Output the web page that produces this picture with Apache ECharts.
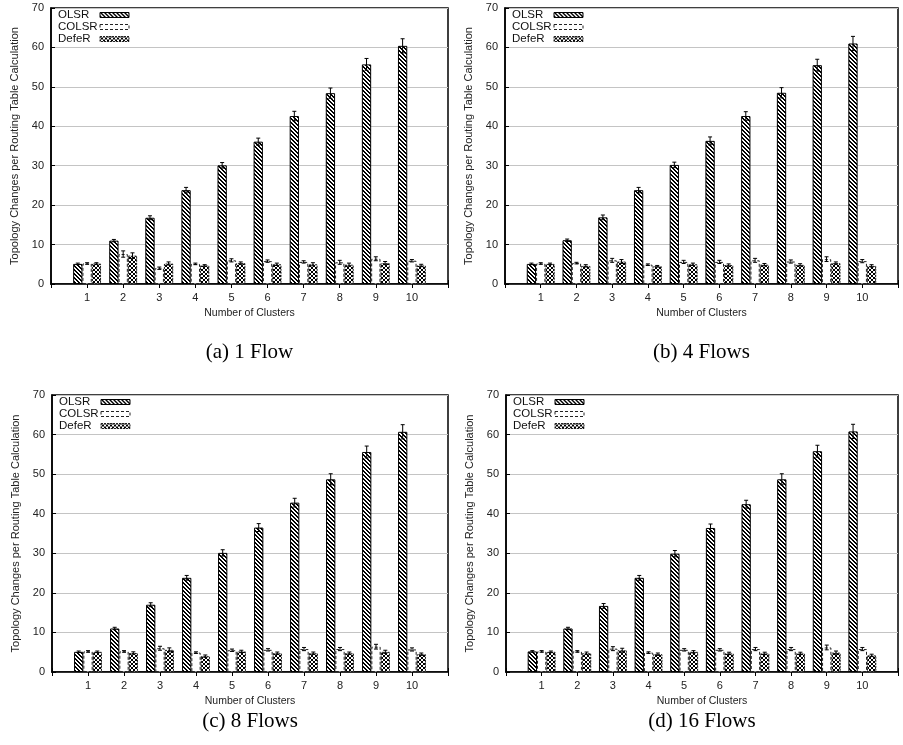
<!DOCTYPE html>
<html><head><meta charset="utf-8">
<script src="https://cdn.jsdelivr.net/npm/echarts/dist/echarts.min.js"></script>
<style>html,body{margin:0;padding:0;background:#fff}#c{width:903px;height:745px}</style>
</head><body><div id="c"></div><script>
// ---- data ----
const categories = [1, 2, 3, 4, 5, 6, 7, 8, 9, 10];
const seriesNames = ['OLSR', 'COLSR', 'DefeR'];
const panelTitles = ['(a) 1 Flow', '(b) 4 Flows', '(c) 8 Flows', '(d) 16 Flows'];
const yTicks = [0, 10, 20, 30, 40, 50, 60, 70];

const olsrA = [5.1, 11.0, 16.8, 23.8, 30.1, 36.1, 42.6, 48.4, 55.7, 60.4];
const colsrA = [5.2, 7.6, 4.0, 5.1, 6.0, 5.8, 5.6, 5.5, 6.4, 5.9];
const deferA = [5.2, 7.2, 5.2, 4.7, 5.3, 5.0, 5.0, 4.9, 5.3, 4.7];
const olsrErrA = [0.2, 0.3, 0.5, 0.7, 0.7, 0.9, 1.2, 1.3, 1.5, 1.8];
const colsrErrA = [0.2, 0.8, 0.3, 0.2, 0.4, 0.3, 0.3, 0.5, 0.5, 0.3];
const deferErrA = [0.2, 0.7, 0.4, 0.2, 0.3, 0.3, 0.4, 0.4, 0.4, 0.3];

const olsrB = [5.1, 11.1, 16.9, 23.8, 30.2, 36.3, 42.6, 48.5, 55.5, 61.0];
const colsrB = [5.2, 5.3, 6.0, 4.9, 5.6, 5.6, 6.0, 5.7, 6.3, 5.8];
const deferB = [5.1, 4.6, 5.7, 4.5, 5.0, 4.8, 4.9, 4.85, 5.3, 4.6];
const olsrErrB = [0.2, 0.3, 0.6, 0.7, 0.7, 1.0, 1.1, 1.3, 1.5, 1.8];
const colsrErrB = [0.2, 0.2, 0.5, 0.2, 0.4, 0.4, 0.5, 0.4, 0.6, 0.4];
const deferErrB = [0.2, 0.3, 0.5, 0.2, 0.3, 0.3, 0.3, 0.3, 0.3, 0.3];

const olsrC = [5.1, 11.0, 17.0, 23.8, 30.1, 36.5, 42.8, 48.7, 55.6, 60.7];
const colsrC = [5.2, 5.2, 6.0, 4.9, 5.5, 5.6, 5.8, 5.8, 6.4, 5.7];
const deferC = [5.1, 4.8, 5.6, 4.0, 5.2, 4.75, 4.75, 4.75, 5.1, 4.5];
const olsrErrC = [0.2, 0.3, 0.5, 0.6, 0.8, 1.0, 1.1, 1.4, 1.5, 1.8];
const colsrErrC = [0.2, 0.2, 0.5, 0.2, 0.3, 0.3, 0.4, 0.4, 0.6, 0.4];
const deferErrC = [0.2, 0.3, 0.5, 0.3, 0.3, 0.3, 0.3, 0.3, 0.4, 0.3];

const olsrD = [5.2, 11.0, 16.7, 23.8, 29.9, 36.4, 42.4, 48.7, 55.8, 60.8];
const colsrD = [5.2, 5.2, 5.9, 4.9, 5.6, 5.6, 5.8, 5.8, 6.2, 5.8];
const deferD = [5.1, 4.75, 5.5, 4.5, 5.1, 4.7, 4.7, 4.7, 4.9, 4.2];
const olsrErrD = [0.2, 0.3, 0.6, 0.6, 0.8, 1.0, 1.0, 1.4, 1.5, 1.8];
const colsrErrD = [0.2, 0.2, 0.5, 0.2, 0.3, 0.3, 0.4, 0.4, 0.6, 0.4];
const deferErrD = [0.2, 0.3, 0.5, 0.3, 0.3, 0.3, 0.3, 0.3, 0.4, 0.3];

const panelValues = [
  [olsrA, colsrA, deferA], [olsrB, colsrB, deferB],
  [olsrC, colsrC, deferC], [olsrD, colsrD, deferD]
];
const panelErrors = [
  [olsrErrA, colsrErrA, deferErrA], [olsrErrB, colsrErrB, deferErrB],
  [olsrErrC, colsrErrC, deferErrC], [olsrErrD, colsrErrD, deferErrD]
];

// ---- layout / style ----
const grids = [
  {left: 51, top: 8, width: 397, height: 276},
  {left: 505, top: 8, width: 393, height: 276},
  {left: 52, top: 395, width: 396, height: 277},
  {left: 506, top: 395, width: 392, height: 277}
];
const captionTop = [342, 342, 711, 711];
const BAR_W = 9.3;
const SANS = '"Liberation Sans", Arial, sans-serif';
const SERIF = '"Liberation Serif", "Times New Roman", serif';

function makePattern(kind) {
  const c = document.createElement('canvas');
  c.width = 4; c.height = 4;
  const g = c.getContext('2d');
  g.fillStyle = '#fff'; g.fillRect(0, 0, 4, 4);
  g.fillStyle = '#000';
  for (let i = 0; i < 4; i++) {
    if (kind === 'hatch') { g.fillRect(i, i, 1, 1); g.fillRect((i + 1) % 4, i, 1, 1); }
    else { g.fillRect(i, i, 1, 1); g.fillRect(3 - i, i, 1, 1); }
  }
  return c;
}
const hatch = makePattern('hatch');
const cross = makePattern('cross');

const barStyles = [
  {color: {image: hatch, repeat: 'repeat'}, borderColor: '#000', borderWidth: 1},
  {color: '#fff', borderColor: '#222', borderWidth: 1, borderType: [3, 2]},
  {color: {image: cross, repeat: 'repeat'}, borderColor: '#222', borderWidth: 1, borderType: [2, 1]}
];
const offsets = [-BAR_W, 0, BAR_W];

function errRender(dx) {
  return function (params, api) {
    const x = api.value(0), lo = api.value(1), hi = api.value(2);
    const a = api.coord([x, lo]), b = api.coord([x, hi]);
    const cx = a[0] + dx, w = 2;
    const st = {stroke: '#000', lineWidth: 1};
    return {type: 'group', children: [
      {type: 'line', shape: {x1: cx, y1: a[1], x2: cx, y2: b[1]}, style: st},
      {type: 'line', shape: {x1: cx - w, y1: a[1], x2: cx + w, y2: a[1]}, style: st},
      {type: 'line', shape: {x1: cx - w, y1: b[1], x2: cx + w, y2: b[1]}, style: st}
    ]};
  };
}

const option = {
  animation: false,
  backgroundColor: '#fff',
  title: [], grid: [], xAxis: [], yAxis: [], legend: [], series: []
};

grids.forEach((gr, p) => {
  option.grid.push({left: gr.left, top: gr.top, width: gr.width, height: gr.height,
    show: true, borderColor: '#000', borderWidth: 1.5, backgroundColor: '#fff'});
  option.xAxis.push({
    type: 'value', gridIndex: p, min: 0, max: 11, interval: 1,
    name: 'Number of Clusters', nameLocation: 'middle', nameGap: 24,
    nameTextStyle: {fontFamily: SANS, fontSize: 10.5, color: '#222'},
    axisLine: {show: true, onZero: false, lineStyle: {color: '#000', width: 1.5}},
    axisTick: {show: true, inside: true, length: 4, lineStyle: {color: '#000'}},
    axisLabel: {fontFamily: SANS, fontSize: 11, color: '#222', margin: 8,
      formatter: v => (categories.indexOf(v) >= 0 ? String(v) : '')},
    splitLine: {show: false}
  });
  // mirrored ticks on top border
  option.xAxis.push({
    type: 'value', gridIndex: p, min: 0, max: 11, interval: 1, position: 'top',
    axisLine: {show: false}, axisLabel: {show: false}, splitLine: {show: false},
    axisTick: {show: true, inside: true, length: 4, lineStyle: {color: '#000'}}
  });
  option.yAxis.push({
    type: 'value', gridIndex: p, min: yTicks[0], max: yTicks[yTicks.length - 1], interval: 10,
    name: 'Topology Changes per Routing Table Calculation', nameLocation: 'middle', nameGap: 31,
    nameTextStyle: {fontFamily: SANS, fontSize: 11, color: '#222'},
    axisLine: {show: true, lineStyle: {color: '#000', width: 1.5}},
    axisTick: {show: true, inside: true, length: 4, lineStyle: {color: '#000'}},
    axisLabel: {fontFamily: SANS, fontSize: 11, color: '#222', margin: 7},
    splitLine: {show: true, lineStyle: {color: '#c4c4c4', width: 1.2}}
  });
  option.title.push({
    text: panelTitles[p], left: gr.left + gr.width / 2, top: captionTop[p], textAlign: 'center',
    padding: 0,
    textStyle: {fontFamily: SERIF, fontSize: 21, fontWeight: 'normal', color: '#000'}
  });
  option.legend.push({
    data: seriesNames.map((nm, s) => ({name: nm, itemStyle: barStyles[s]})),
    orient: 'vertical', left: gr.left + 7, top: gr.top + 1, padding: 0,
    itemGap: 0, itemWidth: 29, itemHeight: 5, align: 'right', icon: 'rect',
    selectedMode: false,
    formatter: name => '{t|' + name + '}',
    textStyle: {fontFamily: SANS, fontSize: 11.5, color: '#111', lineHeight: 12,
      rich: {t: {width: 37, align: 'left', fontFamily: SANS, fontSize: 11.5, color: '#111', lineHeight: 12}}}
  });
  seriesNames.forEach((nm, s) => {
    const vals = panelValues[p][s];
    const errs = panelErrors[p][s];
    option.series.push({
      type: 'bar', name: nm, xAxisIndex: 2 * p, yAxisIndex: p,
      barWidth: BAR_W, barGap: '0%',
      itemStyle: barStyles[s],
      data: categories.map((c, i) => [c, vals[i]])
    });
    option.series.push({
      type: 'custom', name: nm + ' error', xAxisIndex: 2 * p, yAxisIndex: p, z: 5,
      renderItem: errRender(offsets[s]),
      encode: {x: 0, y: [1, 2]},
      data: categories.map((c, i) => [c, vals[i] - errs[i], vals[i] + errs[i]])
    });
  });
});

const chart = echarts.init(document.getElementById('c'), null, {renderer: 'canvas'});
chart.setOption(option);
</script></body></html>
